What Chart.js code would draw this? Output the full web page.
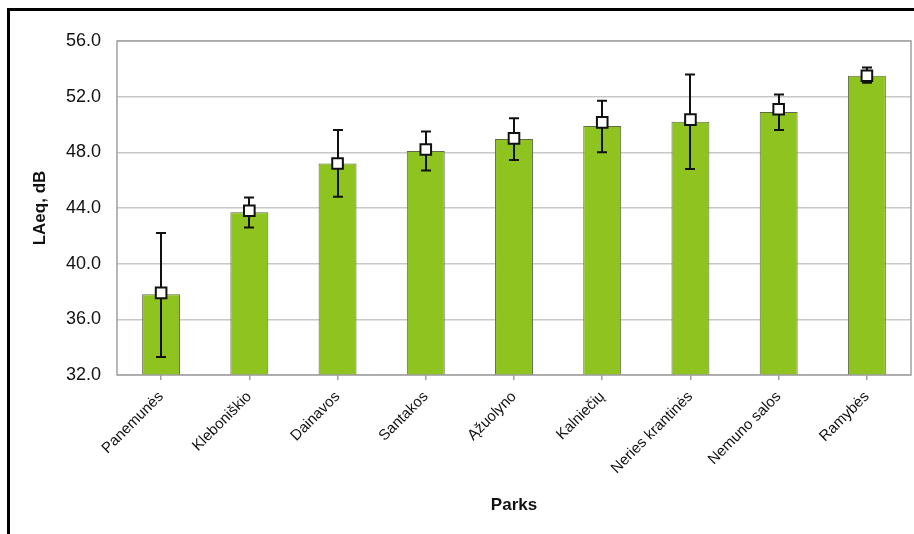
<!DOCTYPE html>
<html>
<head>
<meta charset="utf-8">
<script src="https://cdn.jsdelivr.net/npm/chart.js@4.4.1/dist/chart.umd.min.js"></script>
<style>
  html, body { margin: 0; padding: 0; background: #fff; }
  #wrap { width: 914px; height: 534px; position: relative; }
</style>
</head>
<body>
<div id="wrap"><canvas id="chart" width="914" height="534"></canvas></div>
<script>
const parks = ["Panemunės", "Kleboniškio", "Dainavos", "Santakos", "Ąžuolyno",
  "Kalniečių", "Neries krantinės", "Nemuno salos", "Ramybės"];
const barLevels = [37.8, 43.7, 47.2, 48.1, 48.95, 49.9, 50.2, 50.9, 53.5];
const meanLevels = [37.9, 43.8, 47.2, 48.2, 49.0, 50.15, 50.35, 51.1, 53.5];
const errHigh = [42.2, 44.75, 49.6, 49.5, 50.45, 51.7, 53.6, 52.15, 54.1];
const errLow = [33.3, 42.6, 44.8, 46.7, 47.45, 48.0, 46.8, 49.6, 53.0];
const yTicks = [32, 36, 40, 44, 48, 52, 56];

const FONT = "'Liberation Sans', Arial, sans-serif";

// whiskers: drawn right after the bars, so the mean squares sit on top
const errorBars = {
  id: "errorBars",
  afterDatasetDraw(chart, args) {
    if (args.index !== 0) return;
    const { ctx, scales: { x, y } } = chart;
    ctx.save();
    ctx.strokeStyle = "#111";
    ctx.lineWidth = 2;
    parks.forEach((p, i) => {
      const cx = Math.round(x.getPixelForValue(i));
      const top = y.getPixelForValue(errHigh[i]);
      const bot = y.getPixelForValue(errLow[i]);
      ctx.beginPath();
      ctx.moveTo(cx, top); ctx.lineTo(cx, bot);
      ctx.moveTo(cx - 5, top); ctx.lineTo(cx + 5, top);
      ctx.moveTo(cx - 5, bot); ctx.lineTo(cx + 5, bot);
      ctx.stroke();
    });
    ctx.restore();
  }
};

// plot box and the outer frame
const frame = {
  id: "frame",
  beforeDraw(chart) {
    const { ctx } = chart;
    ctx.save();
    ctx.fillStyle = "#fff";
    ctx.fillRect(0, 0, chart.width, chart.height);
    ctx.restore();
  },
  afterDraw(chart) {
    const { ctx, chartArea: a } = chart;
    ctx.save();
    ctx.strokeStyle = "#a0a0a0";
    ctx.lineWidth = 1.5;
    ctx.strokeRect(a.left, a.top, a.right - a.left, a.bottom - a.top);
    ctx.strokeStyle = "#000";
    ctx.lineWidth = 3;
    ctx.beginPath();
    ctx.moveTo(8.5, chart.height);
    ctx.lineTo(8.5, 9.5);
    ctx.lineTo(chart.width, 9.5);
    ctx.stroke();
    ctx.restore();
  }
};

new Chart(document.getElementById("chart"), {
  data: {
    labels: parks,
    datasets: [
      {
        type: "bar",
        data: barLevels,
        backgroundColor: "#8fc31f",
        borderColor: "#5d6b45",
        borderWidth: 1,
        categoryPercentage: 1,
        barPercentage: 0.43,
        order: 1
      },
      {
        type: "line",
        data: meanLevels,
        showLine: false,
        pointStyle: "rect",
        pointRadius: 7.5,
        pointBackgroundColor: "#fff",
        pointBorderColor: "#111",
        pointBorderWidth: 2,
        order: 0
      }
    ]
  },
  options: {
    responsive: false,
    animation: false,
    layout: { autoPadding: false, padding: { top: 41, right: 3, left: 0, bottom: 0 } },
    plugins: { legend: { display: false }, tooltip: { enabled: false } },
    scales: {
      y: {
        min: 32, max: 56,
        afterBuildTicks(s) { s.ticks = yTicks.map(v => ({ value: v })); },
        afterFit(s) { s.width = 117; },
        ticks: {
          color: "#111",
          font: { family: FONT, size: 18 },
          padding: 16,
          callback: v => v.toFixed(1)
        },
        grid: { color: "#c8c8c8", lineWidth: 1.5, drawTicks: false },
        border: { display: false },
        title: {
          display: true, text: "LAeq, dB", color: "#111",
          font: { family: FONT, size: 17, weight: "bold" },
          padding: { top: 30, bottom: 0 }
        }
      },
      x: {
        afterFit(s) {
          s.height = 159;
          s.paddingLeft = 0;
          s.paddingRight = 0;
        },
        ticks: {
          color: "#111",
          font: { family: FONT, size: 15 },
          minRotation: 45, maxRotation: 45,
          padding: 8,
          autoSkip: false
        },
        grid: {
          offset: false, drawOnChartArea: false,
          color: "#a0a0a0", lineWidth: 1.5, tickLength: 5
        },
        border: { display: false },
        title: {
          display: true, text: "Parks", color: "#111",
          font: { family: FONT, size: 17, weight: "bold" },
          padding: { top: 0, bottom: 18 }
        }
      }
    }
  },
  plugins: [frame, errorBars]
});
</script>
</body>
</html>
